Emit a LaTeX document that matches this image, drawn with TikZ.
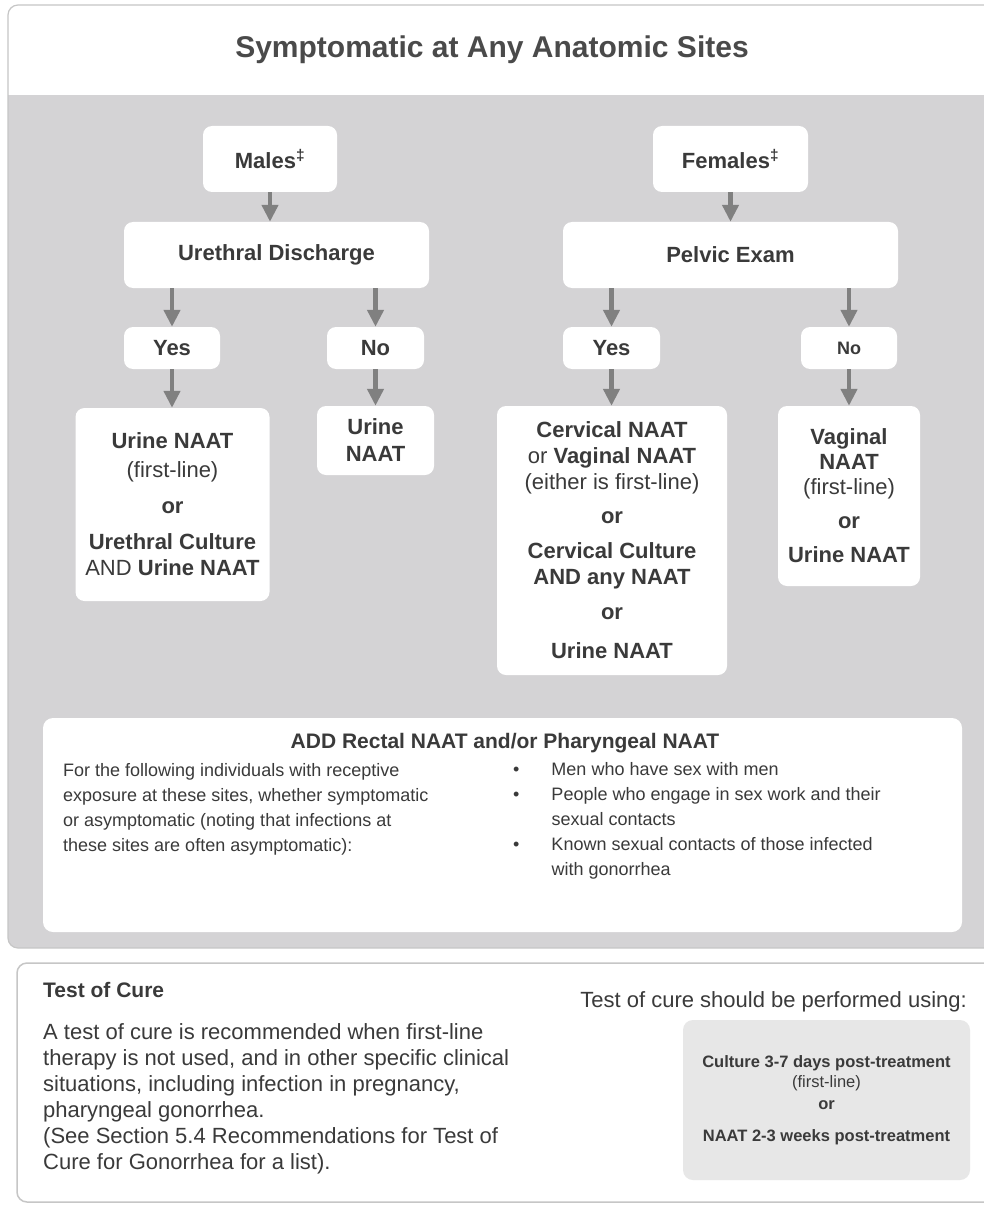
\documentclass[tikz,border=0pt]{standalone}
\usepackage{fontspec}
\setmainfont{Liberation Sans}
\usetikzlibrary{arrows.meta}

\definecolor{panelgray}{RGB}{212,211,213}
\definecolor{edgegray}{RGB}{198,198,198}
\definecolor{arrowgray}{RGB}{128,128,128}
\definecolor{inkgray}{RGB}{58,58,58}
\definecolor{titlegray}{RGB}{74,74,74}
\definecolor{curegray}{RGB}{231,231,231}

\newcommand{\choicefont}{\bfseries\fontsize{22}{26}\selectfont}

\tikzset{
  choice/.style={fill=white, rounded corners=9pt, inner sep=0pt, align=center,
    text=inkgray, font=\choicefont},
  flow/.style={draw=arrowgray, line width=4.5pt, -{Triangle[length=17pt,width=16pt]}},
  plain/.style={inner sep=0pt, text=inkgray, align=left},
  listing/.style={inner sep=0pt, text=inkgray}
}

\begin{document}
\begin{tikzpicture}[x=1pt,y=-1pt]
  \useasboundingbox (0,0) rectangle (984,1206);

  \fill[white] (0,0) rectangle (984,1206);
  \begin{scope}
    \clip[rounded corners=10pt] (8,5) rectangle (1000,948);
    \fill[panelgray] (0,95) rectangle (1000,948);
  \end{scope}
  \draw[edgegray, line width=1.2pt, rounded corners=10pt] (8,5) rectangle (1000,948);
  \draw[edgegray, line width=1.5pt, rounded corners=10pt] (17,963) rectangle (1000,1202);

  \node[anchor=base, text=titlegray, font=\bfseries\fontsize{30}{34}\selectfont] (title) at (492,58) {Symptomatic at Any Anatomic Sites};

  \node[choice, minimum width=134pt, minimum height=66pt] (males) at (270,159) {Males\textsuperscript{\ddag}};
  \node[choice, minimum width=155pt, minimum height=66pt] (females) at (730.5,159) {Females\textsuperscript{\ddag}};
  \node[choice, minimum width=305pt, minimum height=66pt] (ureth) at (276.5,255) {Urethral Discharge};
  \node[choice, minimum width=335pt, minimum height=66pt] (pelvic) at (730.5,255) {Pelvic Exam};
  \node[choice, minimum width=96pt, minimum height=42pt] (yesM) at (172,348) {Yes};
  \node[choice, minimum width=97pt, minimum height=42pt] (noM) at (375.5,348) {No};
  \node[choice, minimum width=97pt, minimum height=42pt] (yesF) at (611.5,348) {Yes};
  \node[choice, minimum width=96pt, minimum height=42pt, font=\bfseries\fontsize{18}{22}\selectfont] (noF) at (849,348) {No};

  \node[choice, minimum width=194pt, minimum height=193pt] (testYM) at (172.5,504.5) {Urine NAAT\\[3pt] {\mdseries (first-line)}\\[10pt] or\\[10pt] Urethral Culture\\ {\mdseries AND} Urine NAAT};
  \node[choice, minimum width=117pt, minimum height=69pt] (testNM) at (375.5,440.5) {Urine\\[1pt] NAAT};
  \node[choice, minimum width=230pt, minimum height=269pt] (testYF) at (612,540.5) {Cervical NAAT\\ {\mdseries or} Vaginal NAAT\\ {\mdseries (either is first-line)}\\[8pt] or\\[9pt] Cervical Culture\\ AND any NAAT\\[9pt] or\\[13pt] Urine NAAT};
  \node[choice, minimum width=142pt, minimum height=180pt, font=\bfseries\fontsize{22}{25}\selectfont] (testNF) at (849,496) {Vaginal\\ NAAT\\ {\mdseries (first-line)}\\[9pt] or\\[9pt] Urine NAAT};

  \draw[flow] (males) -- (males |- ureth.north);
  \draw[flow] (females) -- (females |- pelvic.north);
  \draw[flow] (ureth.south -| yesM) -- (yesM);
  \draw[flow] (ureth.south -| noM) -- (noM);
  \draw[flow] (pelvic.south -| yesF) -- (yesF);
  \draw[flow] (pelvic.south -| noF) -- (noF);
  \draw[flow] (yesM) -- (yesM |- testYM.north);
  \draw[flow] (noM) -- (noM |- testNM.north);
  \draw[flow] (yesF) -- (yesF |- testYF.north);
  \draw[flow] (noF) -- (noF |- testNF.north);

  \node[fill=white, rounded corners=10pt, minimum width=919pt, minimum height=214pt, inner sep=0pt] (addbox) at (502.5,825) {};
  \node[anchor=base, text=inkgray, font=\bfseries\fontsize{21}{25}\selectfont] (addhead) at (505,748) {ADD Rectal NAAT and/or Pharyngeal NAAT};
  \node[plain, anchor=north west, font=\fontsize{18}{25}\selectfont] (addwho) at (63,763) {For the following individuals with receptive\\ exposure at these sites, whether symptomatic\\ or asymptomatic (noting that infections at\\ these sites are often asymptomatic):};
  \node[listing, anchor=north west, font=\fontsize{18}{25}\selectfont] (addlist) at (513,758) {\begin{tabular}{@{}l@{\hspace{32pt}}l@{}}
      \textbullet & Men who have sex with men\\
      \textbullet & People who engage in sex work and their\\
                  & sexual contacts\\
      \textbullet & Known sexual contacts of those infected\\
                  & with gonorrhea
    \end{tabular}};

  \node[anchor=west, inner sep=0pt, text=inkgray, font=\bfseries\fontsize{21}{25}\selectfont] (curehead) at (43,990) {Test of Cure};
  \node[plain, anchor=north west, font=\fontsize{22}{26}\selectfont] (curewhy) at (43,1023) {A test of cure is recommended when first-line\\ therapy is not used, and in other specific clinical\\ situations, including infection in pregnancy,\\ pharyngeal gonorrhea.\\ (See Section 5.4 Recommendations for Test of\\ Cure for Gonorrhea for a list).};
  \node[anchor=east, inner sep=0pt, text=inkgray, font=\fontsize{22}{26}\selectfont] (cureuse) at (967,1002) {Test of cure should be performed using:};
  \node[fill=curegray, rounded corners=10pt, minimum width=287pt, minimum height=160pt, inner sep=0pt, align=center, text=inkgray, font=\bfseries\fontsize{16.5}{20}\selectfont] (curehow) at (826.5,1100) {Culture 3-7 days post-treatment\\ {\mdseries (first-line)}\\[2pt] or\\[12pt] NAAT 2-3 weeks post-treatment};
\end{tikzpicture}
\end{document}
